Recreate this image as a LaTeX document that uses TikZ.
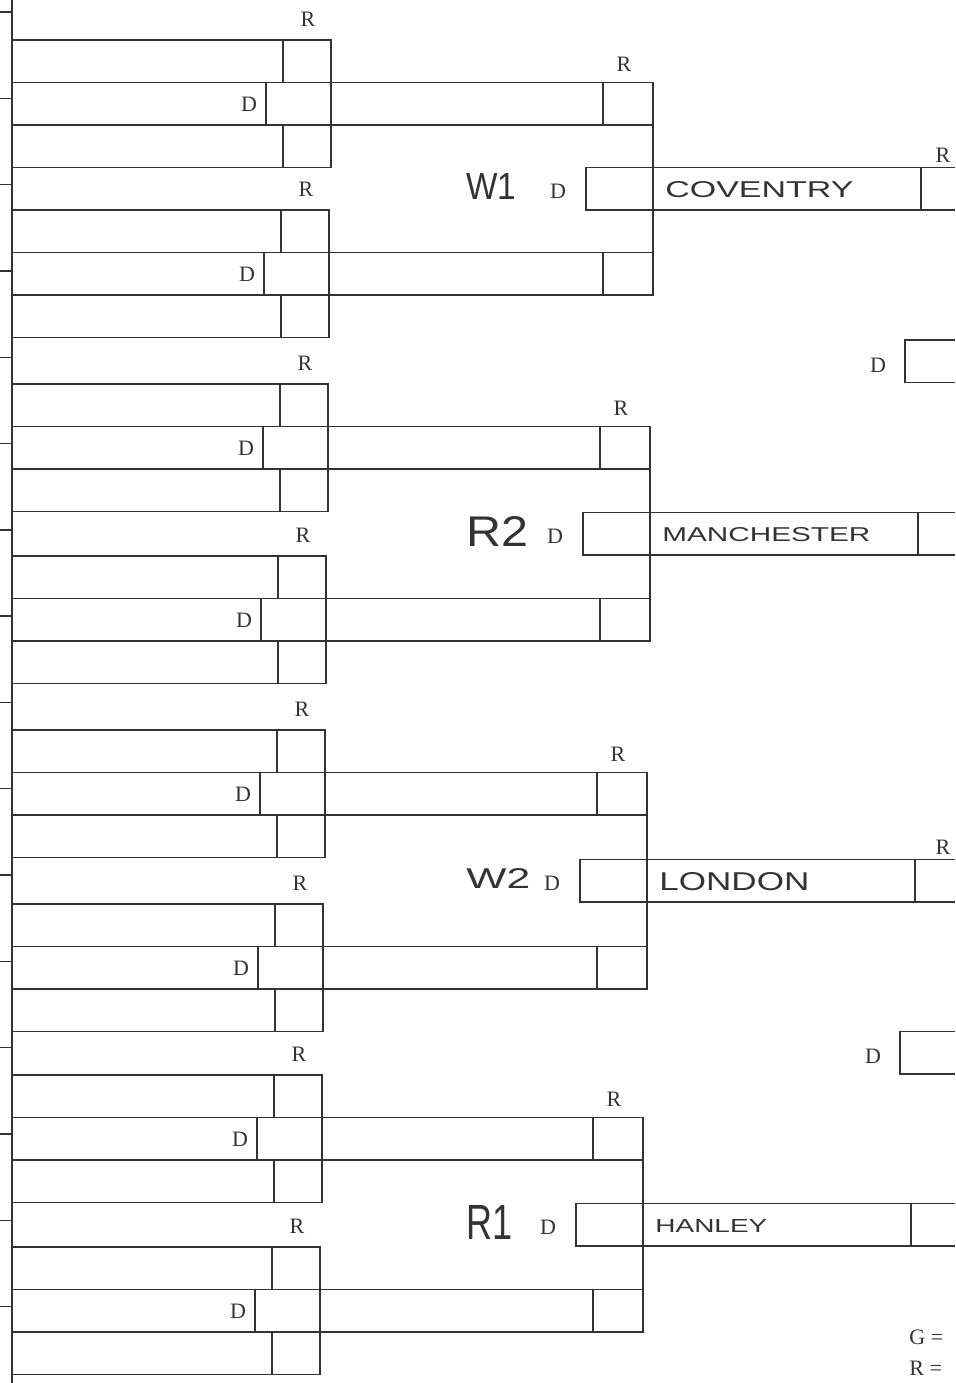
\documentclass[tikz,border=0pt]{standalone}
\usepackage{fontspec}
\setmainfont{Liberation Serif}
\newfontfamily\handfont{Liberation Sans}
\usepackage{graphicx}
\usepackage{tikz}
\usetikzlibrary{positioning}
\definecolor{scanink}{HTML}{333333}
\newcommand{\handtext}[3]{\resizebox{#1}{#2}{\handfont #3}}

\tikzset{
  chartline/.style={draw=scanink, line width=0.7pt},
  printlbl/.style={text=scanink, font=\fontsize{11}{12}\selectfont, inner sep=0pt},
  handlbl/.style={text=scanink, inner sep=0pt, anchor=west}
}

\begin{document}
\begin{tikzpicture}[x=0.5pt, y=-0.5pt]
  \useasboundingbox (0,0) rectangle (955,1383);
  \clip (0,0) rectangle (955,1383);
  \draw[chartline] (12,0) -- (12,1383);
  \foreach \k in {0,...,15} {
    \draw[chartline] (0,12+86.3*\k) -- (12,12+86.3*\k);
  }
  \foreach \T/\X [count=\i] in {40/331, 210/329, 384/328, 556/326, 730/325, 904/323, 1075/322, 1247/320} {
    \draw[chartline] (12,\T) -- (\X,\T) -- (\X,\T+127.5) -- (12,\T+127.5);
    \draw[chartline] (\X-48,\T) -- (\X-48,\T+42.5) (\X-65,\T+42.5) -- (\X-65,\T+85) (\X-48,\T+85) -- (\X-48,\T+127.5);
    \node[printlbl] (rOneR\i) at (\X-23,\T-21) {R};
    \node[printlbl] (rOneD\i) at (\X-82,\T+64) {D};
  }
  \foreach \A/\B/\X/\tag/\tw/\th/\team/\nw/\nh [count=\j] in {
      40/210/653/W1/25pt/13pt/COVENTRY/94pt/8pt,
      384/556/650/R2/31pt/15pt/MANCHESTER/104pt/7pt,
      730/904/647/W2/32pt/10pt/LONDON/75pt/9pt,
      1075/1247/643/R1/23pt/17pt/HANLEY/56pt/6.5pt} {
    \pgfmathsetmacro\m{(\A+\B)/2+63.75}
    \draw[chartline] (12,\A+42.5) -- (\X,\A+42.5) -- (\X,\B+85) -- (12,\B+85);
    \draw[chartline] (12,\A+85) -- (\X,\A+85) (12,\B+42.5) -- (\X,\B+42.5);
    \draw[chartline] (\X-50,\A+42.5) -- (\X-50,\A+85) (\X-50,\B+42.5) -- (\X-50,\B+85);
    \draw[chartline] (955,\m-21.25) -- (\X-67,\m-21.25) -- (\X-67,\m+21.25) -- (955,\m+21.25);
    \draw[chartline] (\X+268,\m-21.25) -- (\X+268,\m+21.25);
    \node[printlbl] (rTwoR\j) at (\X-29,\A+24) {R};
    \node[printlbl] (rTwoD\j) at (\X-95,\m+3) {D};
    \node[handlbl] (tag\j) at (466,\m-2) {\handtext{\tw}{\th}{\tag}};
    \node[handlbl] (team\j) at (\X+12,\m+1) {\handtext{\nw}{\nh}{\team}};
  }
  \foreach \M/\L/\top [count=\j] in {361.25/905/188.75, 1052.75/900/880.75} {
    \draw[chartline] (955,\M-21.25) -- (\L,\M-21.25) -- (\L,\M+21.25) -- (955,\M+21.25);
    \node[printlbl] (rThreeD\j) at (\L-27,\M+4) {D};
    \node[printlbl] (rThreeR\j) at (943,\top-33) {R};
  }
  \node[printlbl, anchor=west] (keyG) at (909,1337) {G =};
  \node[printlbl, anchor=west] (keyR) at (909,1368) {R =};
\end{tikzpicture}
\end{document}
